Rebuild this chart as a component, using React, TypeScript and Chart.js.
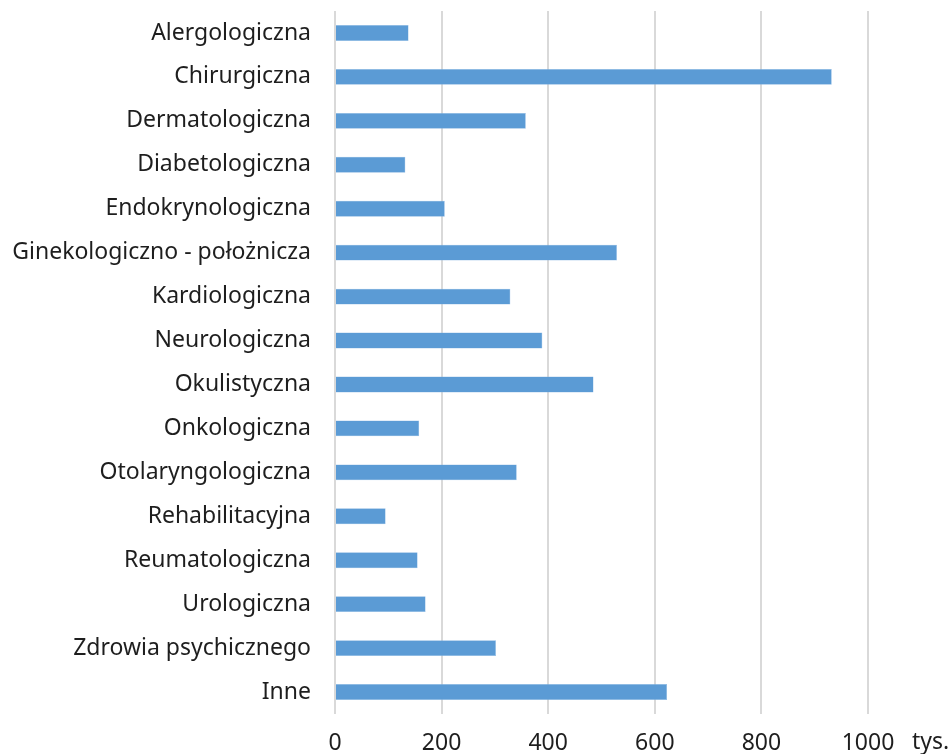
import React, { useEffect, useRef } from "react";
import { Chart, registerables } from "chart.js";

Chart.register(...registerables);

const categories = [
  "Alergologiczna",
  "Chirurgiczna",
  "Dermatologiczna",
  "Diabetologiczna",
  "Endokrynologiczna",
  "Ginekologiczno - położnicza",
  "Kardiologiczna",
  "Neurologiczna",
  "Okulistyczna",
  "Onkologiczna",
  "Otolaryngologiczna",
  "Rehabilitacyjna",
  "Reumatologiczna",
  "Urologiczna",
  "Zdrowia psychicznego",
  "Inne",
];

const values = [138, 932, 358, 132, 206, 529, 329, 389, 485, 158, 341, 95, 155, 170, 302, 623];

const xTicks = [0, 200, 400, 600, 800, 1000];
const unitLabel = "tys.";

const FONT = "'Noto Sans', sans-serif";
const FS = 23;
const TEXT = "#1e1e1e";

export default function App() {
  const ref = useRef<HTMLCanvasElement | null>(null);

  useEffect(() => {
    if (!ref.current) return;
    const unitPlugin = {
      id: "unitLabel",
      afterDraw(chart: any) {
        const x = chart.scales.x;
        const ctx = chart.ctx;
        ctx.save();
        ctx.font = `${FS}px ${FONT}`;
        ctx.fillStyle = TEXT;
        ctx.textAlign = "left";
        ctx.textBaseline = "middle";
        ctx.fillText(unitLabel, x.right + 44, 742);
        ctx.restore();
      },
    };
    const chart = new Chart(ref.current, {
      type: "bar",
      data: {
        labels: categories,
        datasets: [
          {
            data: values,
            backgroundColor: "#5B9BD5",
            borderColor: "#8db8e3",
            borderWidth: 0.5,
            barPercentage: 0.36,
            categoryPercentage: 1,
          },
        ],
      },
      plugins: [unitPlugin],
      options: {
        indexAxis: "y",
        animation: false,
        responsive: false,
        maintainAspectRatio: false,
        layout: { padding: { top: 11, right: 83, left: 0, bottom: 0 } },
        plugins: { legend: { display: false }, tooltip: { enabled: false } },
        scales: {
          x: {
            type: "linear",
            min: 0,
            max: 1000,
            afterBuildTicks(scale: any) {
              scale.ticks = xTicks.map((v) => ({ value: v }));
            },
            afterFit(scale: any) {
              scale.height = 40;
              scale.paddingLeft = 0;
              scale.paddingRight = 0;
            },
            grid: { color: "#d9d9d9", lineWidth: 2, drawTicks: false },
            border: { display: false },
            ticks: {
              padding: 16,
              color: TEXT,
              font: { family: FONT, size: FS },
              maxRotation: 0,
              callback: (v: any) => String(v),
            },
          },
          y: {
            type: "category",
            afterFit(scale: any) {
              scale.width = 335;
              scale.paddingTop = 0;
              scale.paddingBottom = 0;
            },
            grid: { display: false, drawTicks: false },
            border: { display: false },
            ticks: {
              padding: 24,
              color: TEXT,
              font: { family: FONT, size: FS },
              autoSkip: false,
            },
          },
        },
      },
    });
    return () => chart.destroy();
  }, []);

  return (
    <div style={{ position: "fixed", left: 0, top: 0, width: 951, height: 754, background: "#fff" }}>
      <canvas ref={ref} width={951} height={754} style={{ display: "block" }} />
    </div>
  );
}
